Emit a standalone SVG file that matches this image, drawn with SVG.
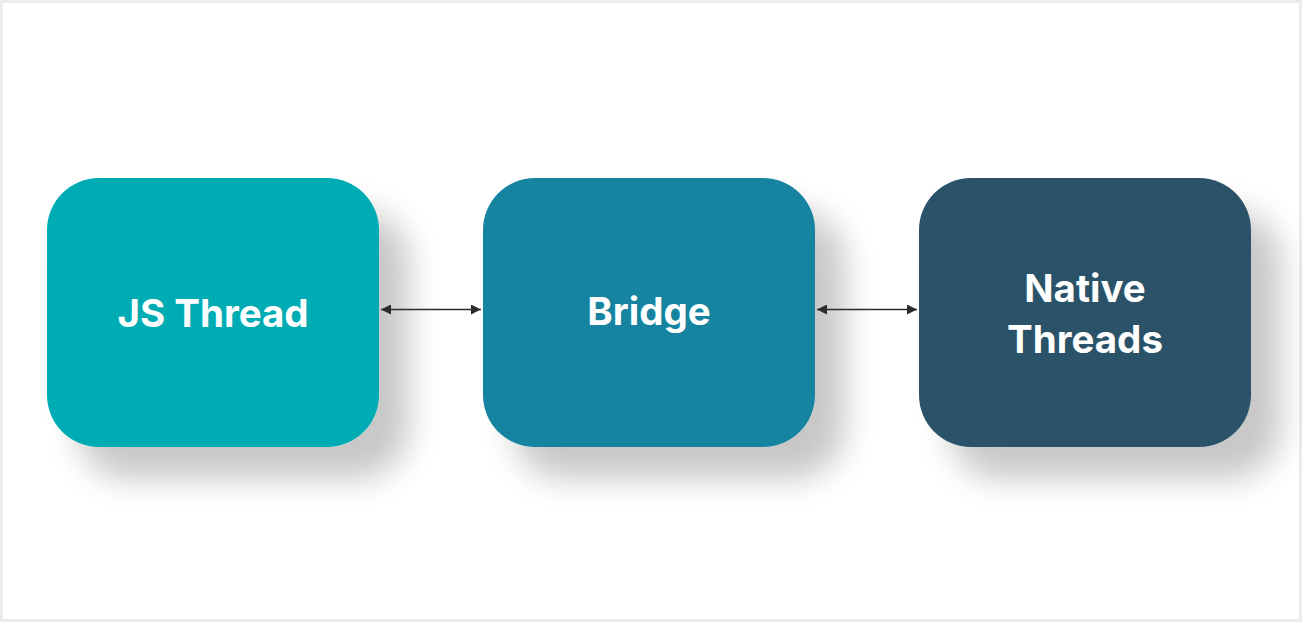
<svg xmlns="http://www.w3.org/2000/svg" width="1303" height="623" viewBox="0 0 1303 623">
<defs>
<filter id="sh" x="-20%" y="-20%" width="160%" height="160%">
<feGaussianBlur in="SourceAlpha" stdDeviation="16"/>
<feOffset dx="30" dy="32" result="b"/>
<feComponentTransfer><feFuncA type="linear" slope="0.22"/></feComponentTransfer>
<feMerge><feMergeNode/><feMergeNode in="SourceGraphic"/></feMerge>
</filter>
<marker id="ah" viewBox="0 0 10 10" refX="10" refY="5" markerWidth="10" markerHeight="10" markerUnits="userSpaceOnUse" orient="auto-start-reverse">
<path d="M0,0 L10,5 L0,10 Z" fill="#2b2b2b"/>
</marker>
<style>
.lbl{font-family:Inter,"Open Sans","Liberation Sans",sans-serif;font-weight:700;font-size:38.5px;fill:#ffffff;text-anchor:middle}
.con{stroke:#2b2b2b;stroke-width:1.3;fill:none}
</style>
</defs>
<rect x="0" y="0" width="1303" height="623" fill="#ffffff"/>
<rect x="1.5" y="1.5" width="1299" height="619" fill="none" stroke="#ececec" stroke-width="3"/>
<g id="js-thread">
<rect x="47" y="178" width="332" height="269" rx="52" fill="#02acb4" filter="url(#sh)"/>
<text class="lbl" x="213" y="327">JS Thread</text>
</g>
<g id="bridge">
<rect x="483" y="178" width="332" height="269" rx="52" fill="#1784a0" filter="url(#sh)"/>
<text class="lbl" x="649" y="325">Bridge</text>
</g>
<g id="native-threads">
<rect x="919" y="178" width="332" height="269" rx="52" fill="#2a536b" filter="url(#sh)"/>
<text class="lbl" x="1085" y="302">Native</text>
<text class="lbl" x="1085" y="353">Threads</text>
</g>
<g id="connectors">
<line class="con" x1="381" y1="309.5" x2="481" y2="309.5" marker-start="url(#ah)" marker-end="url(#ah)"/>
<line class="con" x1="817" y1="309.5" x2="917" y2="309.5" marker-start="url(#ah)" marker-end="url(#ah)"/>
</g>
</svg>
